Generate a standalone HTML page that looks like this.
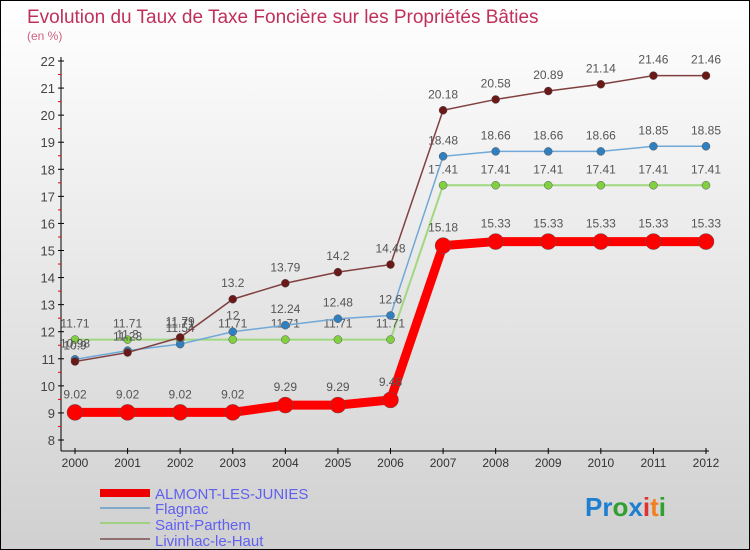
<!DOCTYPE html>
<html><head><meta charset="utf-8"><style>
body{margin:0}
#c{width:748px;height:548px;border:1px solid #000;background:linear-gradient(#fff,#d0d0d0);position:relative;font-family:"Liberation Sans",sans-serif;overflow:hidden}
</style></head><body>
<div id="c">
<svg id="s" width="748" height="548">
<text x="26" y="22" font-size="19" fill="#c0305a">Evolution du Taux de Taxe Foncière sur les Propriétés Bâties</text>
<text x="26" y="39" font-size="12" fill="#d06080">(en %)</text>
<g id="axes"></g><g id="series"></g>
<g font-size="15" fill="#6060f0">
<rect x="99" y="488" width="50" height="8" fill="#e00"/>
<text x="154" y="498">ALMONT-LES-JUNIES</text>
<rect x="99" y="506" width="50" height="2" fill="#80a8c8"/>
<text x="154" y="513">Flagnac</text>
<rect x="99" y="521" width="50" height="2" fill="#a0d080"/>
<text x="154" y="529">Saint-Parthem</text>
<rect x="99" y="537" width="50" height="2" fill="#907070"/>
<text x="154" y="545">Livinhac-le-Haut</text>
</g>
<text x="584" y="515" font-size="26" font-weight="bold"><tspan fill="#1e7fd0">Pr</tspan><tspan fill="#30a030">o</tspan><tspan fill="#1e7fd0">x</tspan><tspan fill="#e03030">i</tspan><tspan fill="#f08020">t</tspan><tspan fill="#30a030">i</tspan></text>
</svg></div>
<script>
const years=[2000,2001,2002,2003,2004,2005,2006,2007,2008,2009,2010,2011,2012];
const yTicks=[8,9,10,11,12,13,14,15,16,17,18,19,20,21,22];
const almont=[9.02,9.02,9.02,9.02,9.29,9.29,9.48,15.18,15.33,15.33,15.33,15.33,15.33];
const flagnac=[10.98,11.3,11.54,12,12.24,12.48,12.6,18.48,18.66,18.66,18.66,18.85,18.85];
const parthem=[11.71,11.71,11.71,11.71,11.71,11.71,11.71,17.41,17.41,17.41,17.41,17.41,17.41];
const livinhac=[10.9,11.23,11.79,13.2,13.79,14.2,14.48,20.18,20.58,20.89,21.14,21.46,21.46];
const NS="http://www.w3.org/2000/svg";
const X=i=>74+i*(631/12), Y=v=>439-(v-8)*(379/14);
function mk(t,a,p){const e=document.createElementNS(NS,t);for(const k in a)e.setAttribute(k,a[k]);p.appendChild(e);return e;}
const ax=document.getElementById('axes'),sr=document.getElementById('series');
let e=mk('line',{x1:60,y1:56,x2:60,y2:450,stroke:'#000'},ax);

e=mk('line',{x1:60,y1:450,x2:708,y2:450,stroke:'#000'},ax);

yTicks.forEach(v=>{mk('line',{x1:57,x2:63,y1:Y(v),y2:Y(v),stroke:'#000'},ax);
 if(v<22)mk('line',{x1:57,x2:60,y1:Y(v+0.5),y2:Y(v+0.5),stroke:'#e00'},ax);
 const t=mk('text',{x:54,y:Y(v)+5,'text-anchor':'end','font-size':13,fill:'#444'},ax);t.textContent=v;
 });
years.forEach((y,i)=>{mk('line',{x1:X(i),x2:X(i),y1:447,y2:453,stroke:'#000'},ax);
 const t=mk('text',{x:X(i),y:466,'text-anchor':'middle','font-size':12,fill:'#333'},ax);t.textContent=y;
 });
function draw(data,name,col,w,r,dot,lbl){
 const g=mk('g',{},sr);
 mk('polyline',{points:data.map((v,i)=>X(i)+','+Y(v)).join(' '),fill:'none',stroke:col,'stroke-width':w},g);
 data.forEach((v,i)=>{const c=mk('circle',{cx:X(i),cy:Y(v),r:r,fill:dot,stroke:'#555','stroke-width':0.5},g);
  
  const t=mk('text',{x:X(i),y:Y(v)-lbl,'text-anchor':'middle','font-size':12,fill:'#555'},g);t.textContent=v;
  });
}
draw(parthem,'saint-parthem','#a0d880',2,4,'#80d040',12);
draw(flagnac,'flagnac','#70a8d8',1.5,4,'#3080c0',12);
draw(livinhac,'livinhac','#804040',1.5,4,'#6a1818',12);
draw(almont,'almont','#f00',9,8,'#f00',14);
</script></body></html>
